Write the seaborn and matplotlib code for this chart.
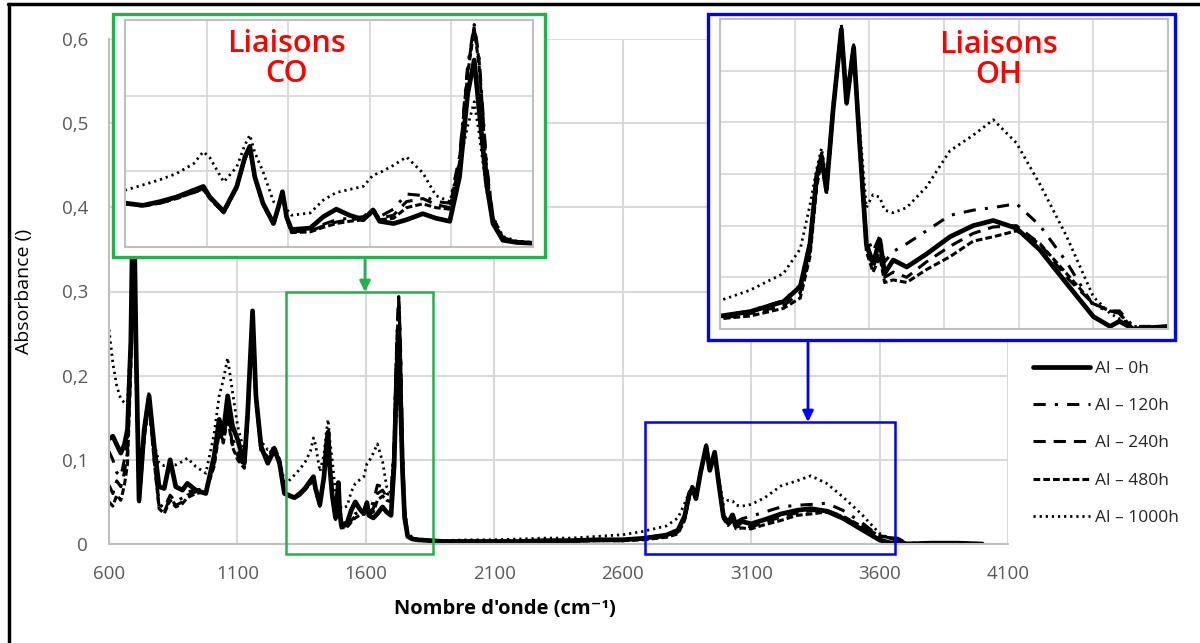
import numpy as np
import pandas as pd
import matplotlib
matplotlib.use("Agg")
import matplotlib.pyplot as plt
from matplotlib.patches import Rectangle
from matplotlib.lines import Line2D
from matplotlib.ticker import FuncFormatter
import seaborn as sns

# wavenumbers (cm-1)
wavenumber = [600, 615, 630, 646, 660, 672, 685, 695, 705, 717, 737, 756, 776, 795, 815, 838, 860, 886, 905, 938,
              977, 1009, 1029, 1045, 1062, 1081, 1101, 1127, 1140, 1159, 1172, 1192, 1218, 1244, 1264, 1283,
              1300, 1322, 1343, 1363, 1384, 1396, 1404, 1421, 1437, 1447, 1453, 1459, 1469, 1482, 1488, 1493,
              1498, 1504, 1527, 1543, 1559, 1575, 1592, 1604, 1612, 1629, 1645, 1665, 1681, 1698, 1710, 1720,
              1728, 1734, 1743, 1751, 1763, 1780, 1800,
              1900, 2000, 2100, 2200, 2300, 2400, 2500, 2600,
              2680, 2770, 2815, 2841, 2859, 2872, 2885, 2903, 2925, 2939, 2958, 2974, 2992, 3010, 3028, 3041,
              3064, 3100, 3153, 3216, 3278, 3332, 3394, 3457, 3528, 3600, 3645, 3670, 3707, 3800, 3900, 4000]

abs_0h = [0.125, 0.128, 0.118, 0.108, 0.118, 0.136, 0.240, 0.450, 0.240, 0.052, 0.136, 0.176, 0.116, 0.068, 0.066,
          0.100, 0.068, 0.064, 0.072, 0.064, 0.060, 0.104, 0.148, 0.132, 0.176, 0.140, 0.124, 0.096, 0.156, 0.277,
          0.176, 0.116, 0.096, 0.112, 0.096, 0.060,
          0.058, 0.055, 0.060, 0.066, 0.075, 0.080, 0.066, 0.047, 0.080, 0.119, 0.133, 0.093, 0.058, 0.031, 0.053,
          0.073, 0.040, 0.023, 0.025, 0.040, 0.050, 0.042, 0.036, 0.049, 0.034, 0.031, 0.036, 0.044, 0.038, 0.034,
          0.093, 0.203, 0.247, 0.181, 0.084, 0.031, 0.009, 0.006, 0.005,
          0.003, 0.003, 0.003, 0.003, 0.004, 0.004, 0.005, 0.005,
          0.0067, 0.0106, 0.0164, 0.033, 0.059, 0.0667, 0.054, 0.085, 0.116, 0.0875, 0.109, 0.072, 0.033, 0.0254,
          0.0345, 0.0215, 0.0267, 0.024, 0.029, 0.0357, 0.040, 0.042, 0.039, 0.0306, 0.0177, 0.0048, 0.001, 0.003,
          0.000, 0.001, 0.001, 0.000]

abs_120h = [0.110, 0.100, 0.085, 0.080, 0.100, 0.125, 0.230, 0.440, 0.230, 0.055, 0.130, 0.172, 0.105, 0.048, 0.042,
            0.058, 0.050, 0.055, 0.062, 0.064, 0.066, 0.098, 0.140, 0.125, 0.160, 0.125, 0.110, 0.094, 0.150, 0.272,
            0.170, 0.112, 0.100, 0.114, 0.098, 0.062,
            0.058, 0.054, 0.058, 0.064, 0.072, 0.077, 0.064, 0.045, 0.078, 0.117, 0.131, 0.092, 0.057, 0.030, 0.052,
            0.071, 0.038, 0.020, 0.022, 0.030, 0.036, 0.038, 0.040, 0.050, 0.040, 0.050, 0.070, 0.068, 0.060, 0.058,
            0.120, 0.240, 0.294, 0.250, 0.110, 0.040, 0.012, 0.007, 0.005,
            0.003, 0.003, 0.003, 0.003, 0.004, 0.004, 0.005, 0.005,
            0.007, 0.011, 0.017, 0.034, 0.060, 0.068, 0.055, 0.086, 0.118, 0.090, 0.110, 0.074, 0.036, 0.030,
            0.036, 0.026, 0.030, 0.033, 0.038, 0.044, 0.046, 0.047, 0.0485, 0.040, 0.026, 0.009, 0.007, 0.007,
            0.001, 0.001, 0.001, 0.000]

abs_240h = [0.070, 0.060, 0.075, 0.068, 0.085, 0.110, 0.220, 0.440, 0.220, 0.050, 0.128, 0.170, 0.100, 0.044, 0.038,
            0.055, 0.046, 0.050, 0.058, 0.062, 0.064, 0.095, 0.135, 0.122, 0.155, 0.118, 0.105, 0.092, 0.150, 0.275,
            0.172, 0.112, 0.102, 0.115, 0.100, 0.062,
            0.057, 0.055, 0.059, 0.065, 0.073, 0.078, 0.065, 0.046, 0.079, 0.118, 0.132, 0.093, 0.058, 0.031, 0.053,
            0.072, 0.039, 0.021, 0.021, 0.028, 0.033, 0.036, 0.038, 0.048, 0.038, 0.042, 0.060, 0.064, 0.056, 0.052,
            0.115, 0.235, 0.292, 0.245, 0.105, 0.038, 0.012, 0.007, 0.005,
            0.003, 0.003, 0.003, 0.003, 0.003, 0.004, 0.004, 0.004,
            0.006, 0.009, 0.014, 0.030, 0.057, 0.066, 0.053, 0.084, 0.117, 0.088, 0.108, 0.072, 0.032, 0.024,
            0.030, 0.020, 0.022, 0.020, 0.026, 0.032, 0.037, 0.0395, 0.040, 0.033, 0.020, 0.0098, 0.007, 0.006,
            0.000, 0.001, 0.001, 0.000]

abs_480h = [0.050, 0.045, 0.058, 0.052, 0.070, 0.095, 0.210, 0.430, 0.210, 0.048, 0.125, 0.168, 0.098, 0.042, 0.036,
            0.052, 0.044, 0.048, 0.055, 0.060, 0.062, 0.092, 0.132, 0.120, 0.150, 0.115, 0.100, 0.090, 0.148, 0.270,
            0.168, 0.110, 0.104, 0.116, 0.100, 0.063,
            0.057, 0.054, 0.058, 0.064, 0.072, 0.076, 0.064, 0.045, 0.078, 0.116, 0.130, 0.091, 0.056, 0.029, 0.051,
            0.070, 0.037, 0.019, 0.020, 0.026, 0.031, 0.034, 0.036, 0.046, 0.036, 0.038, 0.052, 0.057, 0.052, 0.050,
            0.112, 0.230, 0.288, 0.240, 0.100, 0.036, 0.011, 0.007, 0.005,
            0.003, 0.003, 0.003, 0.003, 0.003, 0.003, 0.004, 0.004,
            0.005, 0.008, 0.012, 0.028, 0.055, 0.065, 0.052, 0.083, 0.115, 0.087, 0.107, 0.070, 0.030, 0.022,
            0.028, 0.018, 0.019, 0.018, 0.023, 0.028, 0.034, 0.0357, 0.038, 0.033, 0.0215, 0.0098, 0.007, 0.006,
            0.000, 0.001, 0.001, 0.000]

abs_1000h = [0.255, 0.215, 0.188, 0.172, 0.168, 0.168, 0.250, 0.440, 0.240, 0.060, 0.140, 0.181, 0.120, 0.096, 0.093,
             0.094, 0.094, 0.098, 0.102, 0.092, 0.084, 0.130, 0.176, 0.195, 0.221, 0.180, 0.140, 0.108, 0.160, 0.268,
             0.180, 0.122, 0.112, 0.114, 0.100, 0.074,
             0.075, 0.082, 0.089, 0.097, 0.110, 0.126, 0.118, 0.086, 0.106, 0.135, 0.148, 0.125, 0.100, 0.060, 0.056,
             0.067, 0.050, 0.042, 0.045, 0.062, 0.072, 0.076, 0.080, 0.095, 0.098, 0.108, 0.119, 0.098, 0.068, 0.060,
             0.110, 0.160, 0.192, 0.150, 0.075, 0.040, 0.014, 0.008, 0.006,
             0.004, 0.005, 0.005, 0.006, 0.007, 0.007, 0.009, 0.011,
             0.015, 0.0215, 0.031, 0.048, 0.062, 0.070, 0.058, 0.088, 0.112, 0.090, 0.105, 0.078, 0.047, 0.052,
             0.051, 0.046, 0.045, 0.047, 0.055, 0.069, 0.075, 0.081, 0.072, 0.056, 0.036, 0.0125, 0.006, 0.004,
             0.001, 0.001, 0.001, 0.000]

series_names = ["Al \u2013 0h", "Al \u2013 120h", "Al \u2013 240h", "Al \u2013 480h", "Al \u2013 1000h"]
series_values = [abs_0h, abs_120h, abs_240h, abs_480h, abs_1000h]

x_ticks = [600, 1100, 1600, 2100, 2600, 3100, 3600, 4100]
y_ticks = [0, 0.1, 0.2, 0.3, 0.4, 0.5, 0.6]

# long table for seaborn
df = pd.DataFrame({
    "wn": wavenumber * len(series_names),
    "absorbance": [v for vals in series_values for v in vals],
    "serie": [n for n in series_names for _ in wavenumber],
})

# line styles
dash_map = {series_names[0]: "", series_names[1]: (4, 3, 1, 3), series_names[2]: (4, 2.6),
            series_names[3]: (2.2, 1.0), series_names[4]: (0.8, 1.4)}
width_map = {series_names[0]: 3.4, series_names[1]: 2.2, series_names[2]: 2.2,
             series_names[3]: 2.2, series_names[4]: 2.0}
color_map = {n: "black" for n in series_names}

sns.set_theme(style="white")
plt.rcParams["font.family"] = ["Open Sans", "DejaVu Sans"]

W, H = 1200, 643
fig = plt.figure(figsize=(12, 6.43), dpi=100)

def fx(px):
    return px / W

def fy(py):
    return 1 - py / H

grid_col = "#D9D9D9"

# main axes
ax = fig.add_axes([fx(109), fy(544), fx(1008) - fx(109), fy(39) - fy(544)])
sns.lineplot(data=df, x="wn", y="absorbance", hue="serie", style="serie", size="serie",
             hue_order=series_names, style_order=series_names, size_order=series_names,
             palette=color_map, dashes=dash_map, sizes=width_map, estimator=None, sort=False,
             legend="full", ax=ax)
ax.set_xlim(600, 4100)
ax.set_ylim(0, 0.6)
ax.set_xticks(x_ticks)
ax.set_yticks(y_ticks)
ax.yaxis.set_major_formatter(FuncFormatter(lambda v, p: "0" if abs(v) < 1e-9 else f"{v:.1f}".replace(".", ",")))
ax.grid(True, color=grid_col, lw=1.5)
ax.set_axisbelow(True)
for s in ["top", "right"]:
    ax.spines[s].set_visible(False)
for s in ["left", "bottom"]:
    ax.spines[s].set_color("#BFBFBF")
    ax.spines[s].set_linewidth(1.5)
ax.tick_params(length=0, labelsize=13.5, labelcolor="#595959", pad=15)
ax.set_xlabel("Nombre d'onde (cm\u207b\u00b9)", fontsize=14.5, fontweight="bold", color="black")
ax.set_ylabel("Absorbance ()", fontsize=14, color="black")
ax.xaxis.set_label_coords((505 - 109) / 899, -0.108)
ax.yaxis.set_label_coords(-(109 - 33) / 899, 0.5)

sns.move_legend(ax, "upper left", bbox_to_anchor=(fx(1017), fy(345)), bbox_transform=fig.transFigure,
                frameon=False, title=None, fontsize=12.5, handlelength=3.3, labelspacing=1.22,
                handletextpad=0.3)

# zoom boxes on the main plot
ax.add_patch(Rectangle((1289, -0.012), 572, 0.312, fill=False, ec="#22B14C", lw=1.8, clip_on=False, zorder=5))
ax.add_patch(Rectangle((2686, -0.012), 976, 0.157, fill=False, ec="#0000FF", lw=1.8, clip_on=False, zorder=5))


def inset(frame, box, color, xlim, ylim, xt, yt, label, lab_xy):
    fig.add_artist(Rectangle((fx(frame[0]), fy(frame[3])), fx(frame[2]) - fx(frame[0]), fy(frame[1]) - fy(frame[3]),
                             transform=fig.transFigure, fc="white", ec=color, lw=2.4, zorder=2))
    a = fig.add_axes([fx(box[0]), fy(box[3]), fx(box[2]) - fx(box[0]), fy(box[1]) - fy(box[3])])
    a.set_zorder(3)
    sns.lineplot(data=df, x="wn", y="absorbance", hue="serie", style="serie", size="serie",
                 hue_order=series_names, style_order=series_names, size_order=series_names,
                 palette=color_map, dashes=dash_map, sizes=width_map, estimator=None, sort=False,
                 legend=False, ax=a)
    a.set_xlim(*xlim)
    a.set_ylim(*ylim)
    a.set_xticks(xt)
    a.set_yticks(yt)
    a.set_xticklabels([])
    a.set_yticklabels([])
    a.set_xlabel("")
    a.set_ylabel("")
    a.tick_params(length=0)
    a.grid(True, color=grid_col, lw=1.3)
    a.set_axisbelow(True)
    for s in a.spines.values():
        s.set_color("#BFBFBF")
        s.set_linewidth(1.5)
    a.text(lab_xy[0], lab_xy[1], label, transform=a.transAxes, ha="center", va="center",
           color="#FF0000", fontsize=22, fontweight="semibold", linespacing=1.0)
    return a


inset((113, 14, 545, 257), (125, 20, 533, 247), "#22B14C", (1300, 1800), (0, 0.3),
      [1300, 1400, 1500, 1600, 1700, 1800], [0, 0.1, 0.2, 0.3], "Liaisons\nCO", (0.397, 0.826))
inset((708, 14, 1175, 340), (720, 19, 1168, 329), "#0000FF", (2600, 3800), (0, 0.12),
      [2600, 2800, 3000, 3200, 3400, 3600, 3800], [0, 0.02, 0.04, 0.06, 0.08, 0.1, 0.12],
      "Liaisons\nOH", (0.621, 0.868))

# arrows from insets to zoom boxes
ax.annotate("", xy=(fx(365), fy(292)), xytext=(fx(365), fy(257)), xycoords="figure fraction",
            arrowprops=dict(arrowstyle="-|>", color="#22B14C", lw=2, mutation_scale=16, shrinkA=0, shrinkB=0))
ax.annotate("", xy=(fx(808), fy(422)), xytext=(fx(808), fy(340)), xycoords="figure fraction",
            arrowprops=dict(arrowstyle="-|>", color="#0000FF", lw=2, mutation_scale=16, shrinkA=0, shrinkB=0))

# outer border (top and left)
fig.add_artist(Line2D([fx(8), 1], [fy(4), fy(4)], transform=fig.transFigure, color="black", lw=2.5))
fig.add_artist(Line2D([fx(9), fx(9)], [0, fy(4)], transform=fig.transFigure, color="black", lw=2.5))

fig.savefig("out.png", dpi=100)
